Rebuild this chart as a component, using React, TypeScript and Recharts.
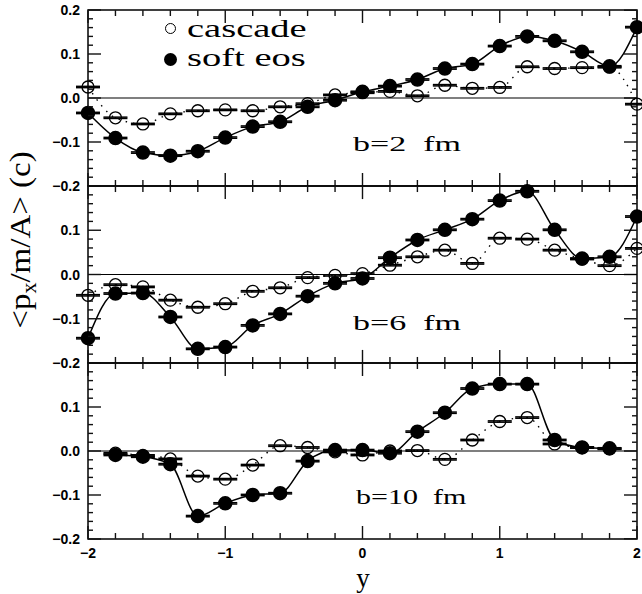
import React from 'react';
import { LineChart, Line, XAxis, YAxis, ReferenceLine, ReferenceArea, ErrorBar } from 'recharts';

// rapidity values (x)
const Y_VALUES = [-2, -1.8, -1.6, -1.4, -1.2, -1.0, -0.8, -0.6, -0.4, -0.2, 0, 0.2, 0.4, 0.6, 0.8, 1.0, 1.2, 1.4, 1.6, 1.8, 2.0];

// b = 2 fm
const cascadeB2 = [0.025, -0.045, -0.059, -0.036, -0.029, -0.027, -0.029, -0.020, -0.013, 0.007, 0.012, 0.015, 0.005, 0.029, 0.022, 0.024, 0.071, 0.067, 0.069, 0.070, -0.014];
const softB2 = [-0.034, -0.091, -0.124, -0.131, -0.121, -0.090, -0.065, -0.054, -0.020, -0.005, 0.014, 0.027, 0.042, 0.067, 0.077, 0.118, 0.140, 0.130, 0.105, 0.072, 0.161];

// b = 6 fm
const cascadeB6 = [-0.047, -0.023, -0.028, -0.058, -0.074, -0.066, -0.038, -0.030, -0.007, -0.002, 0.002, 0.021, 0.040, 0.055, 0.025, 0.082, 0.080, 0.055, 0.035, 0.020, 0.059];
const softB6 = [-0.144, -0.043, -0.042, -0.096, -0.168, -0.164, -0.115, -0.089, -0.049, -0.020, -0.009, 0.038, 0.078, 0.101, 0.125, 0.167, 0.188, 0.101, 0.036, 0.040, 0.131];

// b = 10 fm (no points at y = -2 and y = 2)
const cascadeB10 = [null, -0.005, -0.010, -0.018, -0.057, -0.064, -0.032, 0.012, 0.008, -0.002, -0.009, 0.000, 0.001, -0.019, 0.025, 0.067, 0.076, 0.016, 0.008, 0.005, null];
const softB10 = [null, -0.009, -0.013, -0.030, -0.148, -0.119, -0.100, -0.096, -0.023, 0.002, 0.002, -0.005, 0.044, 0.087, 0.142, 0.152, 0.152, 0.025, 0.008, 0.006, null];

const ERR = 0.0015;

const X_TICKS = [-2, -1.8, -1.6, -1.4, -1.2, -1, -0.8, -0.6, -0.4, -0.2, 0, 0.2, 0.4, 0.6, 0.8, 1, 1.2, 1.4, 1.6, 1.8, 2];
const Y_TICKS = [-0.2, -0.18, -0.16, -0.14, -0.12, -0.1, -0.08, -0.06, -0.04, -0.02, 0, 0.02, 0.04, 0.06, 0.08, 0.1, 0.12, 0.14, 0.16, 0.18, 0.2];
const X_LABELS = [-2, -1, 0, 1, 2];
const Y_LABELS_TOP = [-0.2, -0.1, 0, 0.1, 0.2];
const Y_LABELS_LOWER = [-0.2, -0.1, 0, 0.1];
const PANEL_LABELS = ['b=2\u00a0\u00a0fm', 'b=6\u00a0\u00a0fm', 'b=10\u00a0\u00a0fm'];

const X_DOMAIN: [number, number] = [-2, 2];
const Y_DOMAIN: [number, number] = [-0.2, 0.2];

const PLOT_W = 549;
const PLOT_H = 176;
const X_PER_PX = 4 / PLOT_W;
const Y_PER_PX = 0.4 / PLOT_H;

const build = (c: (number | null)[], s: (number | null)[]) =>
  Y_VALUES.map((x, i) => ({
    x,
    c: c[i],
    s: s[i],
    ce: ERR,
    se: ERR,
  }));

const near = (a: number, b: number) => Math.abs(a - b) < 1e-6;
const isMajor = (v: number, step: number) => Math.abs(v / step - Math.round(v / step)) < 1e-6;
const fmt = (v: number, digits: number) => {
  const s = Math.abs(v).toFixed(digits);
  return v < -1e-9 ? '\u2212' + s : s;
};

function LeftLabel(props: any) {
  const { x, y, payload, labels } = props;
  const v = Number(payload.value);
  const show = labels.some((l: number) => near(l, v));
  const len = isMajor(v, 0.1) ? 13 : 5;
  return (
    <g>
      <line x1={x} x2={x + len} y1={y} y2={y} stroke="#111" strokeWidth={1.4} />
      {show && (
        <text x={x - 8} y={y} dy="0.36em" textAnchor="end" fontFamily="Liberation Sans, Arial, sans-serif" fontSize={14} fontWeight={700} fill="#000">
          {fmt(v, 1)}
        </text>
      )}
    </g>
  );
}

function BottomLabel(props: any) {
  const { x, y, payload } = props;
  const v = Number(payload.value);
  return (
    <text x={x} y={y + 19} textAnchor="middle" fontFamily="Liberation Sans, Arial, sans-serif" fontSize={14} fontWeight={700} fill="#000">
      {fmt(v, 0)}
    </text>
  );
}

function Panel(props: { cas: (number | null)[]; soft: (number | null)[]; top: number; height: number; mTop: number; bottom: number; labels: number[]; showX: boolean }) {
  const { cas, soft, top, height, mTop, bottom, labels, showX } = props;
  const data = build(cas, soft);
  const xLen = (v: number) => (isMajor(v, 1) ? 13 : 6) * Y_PER_PX;
  const yLen = (v: number) => (isMajor(v, 0.1) ? 13 : 5) * X_PER_PX;
  return (
    <div style={{ position: 'absolute', left: 0, top }}>
      <LineChart width={642} height={height} data={data} margin={{ top: mTop, right: 5, left: 0, bottom }}>
        {showX ? (
          <XAxis dataKey="x" type="number" domain={X_DOMAIN} ticks={X_LABELS} interval={0} height={25} tickSize={0} tickMargin={0} tickLine={false} axisLine={false} tick={(p: any) => <BottomLabel {...p} />} />
        ) : (
          <XAxis dataKey="x" type="number" domain={X_DOMAIN} ticks={X_TICKS} interval={0} hide />
        )}
        <YAxis type="number" domain={Y_DOMAIN} ticks={Y_TICKS} interval={0} width={88} tickSize={0} tickMargin={0} tickLine={false} axisLine={false} tick={(p: any) => <LeftLabel {...p} labels={labels} />} />
        <ReferenceArea x1={-2} x2={2} y1={-0.2} y2={0.2} fill="none" fillOpacity={0} stroke="#000" strokeWidth={1.5} />
        {X_TICKS.map((v, i) => (
          <ReferenceLine key={'xt' + i} segment={[{ x: v, y: 0.1995 }, { x: v, y: 0.2 - xLen(v) }]} stroke="#111" strokeWidth={1.4} />
        ))}
        {X_TICKS.map((v, i) => (
          <ReferenceLine key={'xb' + i} segment={[{ x: v, y: -0.1995 }, { x: v, y: -0.2 + xLen(v) }]} stroke="#111" strokeWidth={1.4} />
        ))}
        {Y_TICKS.map((v, i) => (
          <ReferenceLine key={'yr' + i} segment={[{ x: 1.999, y: v === 0.2 ? 0.1995 : v === -0.2 ? -0.1995 : v }, { x: 2 - yLen(v), y: v === 0.2 ? 0.1995 : v === -0.2 ? -0.1995 : v }]} stroke="#111" strokeWidth={1.4} />
        ))}
        <ReferenceLine y={0} stroke="#000" strokeWidth={1.2} />
        <Line dataKey="c" type="monotone" stroke="#000" strokeWidth={1.4} strokeDasharray="1.5 6" dot={{ r: 6, fill: 'none', stroke: '#000', strokeWidth: 1.3, strokeDasharray: 'none' }} isAnimationActive={false}>
          <ErrorBar dataKey="ce" width={12} stroke="#000" direction="y" />
        </Line>
        <Line dataKey="s" type="monotone" stroke="#000" strokeWidth={1.5} dot={{ r: 6.5, fill: '#000', stroke: '#000' }} isAnimationActive={false}>
          <ErrorBar dataKey="se" width={12} stroke="#000" direction="y" />
        </Line>
      </LineChart>
    </div>
  );
}

const SERIF = '"Liberation Serif", "Times New Roman", serif';

const textBox = (left: number, top: number, size: number, scale: number): React.CSSProperties => ({
  position: 'absolute',
  left,
  top,
  fontFamily: SERIF,
  fontSize: size,
  lineHeight: `${size}px`,
  whiteSpace: 'nowrap',
  color: '#000',
  transform: `scaleX(${scale})`,
  transformOrigin: 'left center',
  pointerEvents: 'none',
});

export default function App() {
  return (
    <div style={{ position: 'absolute', left: 0, top: 0, width: 642, height: 594 }}>
      <style>{'.recharts-surface{overflow:visible}'}</style>
      <Panel cas={cascadeB2} soft={softB2} top={0} height={186} mTop={10} bottom={0} labels={Y_LABELS_TOP} showX={false} />
      <Panel cas={cascadeB6} soft={softB6} top={186} height={177} mTop={0} bottom={0} labels={Y_LABELS_LOWER} showX={false} />
      <Panel cas={cascadeB10} soft={softB10} top={363} height={231} mTop={0} bottom={30} labels={Y_LABELS_LOWER} showX={true} />

      <div style={{ position: 'absolute', left: 164.5, top: 22.5, width: 11, height: 11, border: '1.3px solid #000', borderRadius: '50%', boxSizing: 'border-box' }} />
      <div style={textBox(187, 16, 25, 1.54)}>cascade</div>
      <div style={{ position: 'absolute', left: 163.5, top: 52.5, width: 13, height: 13, background: '#000', borderRadius: '50%' }} />
      <div style={textBox(187, 45, 25, 1.54)}>soft eos</div>

      <div style={textBox(353, 134, 20, 1.7)}>{PANEL_LABELS[0]}</div>
      <div style={textBox(353, 313, 20, 1.7)}>{PANEL_LABELS[1]}</div>
      <div style={textBox(356, 487, 20, 1.5)}>{PANEL_LABELS[2]}</div>

      <div style={{ position: 'absolute', left: 343, top: 565, width: 40, textAlign: 'center', fontFamily: SERIF, fontSize: 27, lineHeight: '27px', color: '#000' }}>y</div>

      <div
        style={{
          position: 'absolute',
          left: -70,
          top: 225,
          width: 180,
          height: 30,
          lineHeight: '30px',
          textAlign: 'center',
          whiteSpace: 'nowrap',
          fontFamily: SERIF,
          fontSize: 30,
          color: '#000',
          transform: 'rotate(-90deg) scaleX(1.1)',
        }}
      >
        {'<p'}
        <span style={{ fontSize: 20, position: 'relative', top: 6, lineHeight: '0px' }}>x</span>
        {'/m/A> (c)'}
      </div>
    </div>
  );
}
